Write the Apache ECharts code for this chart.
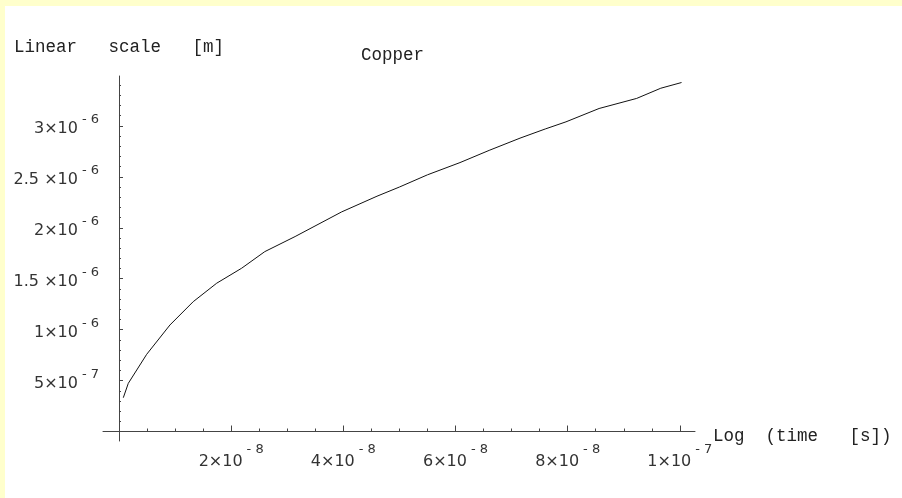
<!DOCTYPE html>
<html>
<head>
<meta charset="utf-8">
<script src="https://cdn.jsdelivr.net/npm/echarts@6/dist/echarts.min.js"></script>
<style>
  html, body { margin: 0; padding: 0; background: #FFFFCC; }
  #chart { position: absolute; left: 5px; top: 6px; width: 897px; height: 492px; background: #ffffff; }
</style>
</head>
<body>
<div id="chart"></div>
<script>
// Copper: penetration depth versus time
const timeValues = [7.7e-10, 1.66e-9, 4.94e-9, 9.09e-9, 1.324e-8, 1.742e-8, 2.187e-8, 2.60e-8,
  3.14e-8, 3.97e-8, 4.6e-8, 5.0e-8, 5.5e-8, 6.08e-8, 6.6e-8, 7.15e-8, 7.6e-8, 7.97e-8,
  8.56e-8, 9.23e-8, 9.66e-8, 1.003e-7];
const depthValues = [3.32e-7, 4.73e-7, 7.58e-7, 1.046e-6, 1.275e-6, 1.456e-6, 1.603e-6, 1.766e-6,
  1.914e-6, 2.156e-6, 2.31e-6, 2.40e-6, 2.52e-6, 2.64e-6, 2.76e-6, 2.88e-6, 2.97e-6, 3.04e-6,
  3.171e-6, 3.27e-6, 3.37e-6, 3.426e-6];

// tick positions and their labels as [mantissa, exponent]
const xMajorTicks = [2e-8, 4e-8, 6e-8, 8e-8, 1e-7];
const xTickLabels = [['2\u00d710', '- 8'], ['4\u00d710', '- 8'], ['6\u00d710', '- 8'], ['8\u00d710', '- 8'], ['1\u00d710', '- 7']];
const xMinorTicks = [5e-9, 1e-8, 1.5e-8, 2.5e-8, 3e-8, 3.5e-8, 4.5e-8, 5e-8, 5.5e-8, 6.5e-8, 7e-8, 7.5e-8, 8.5e-8, 9e-8, 9.5e-8];
const yMajorTicks = [5e-7, 1e-6, 1.5e-6, 2e-6, 2.5e-6, 3e-6];
const yTickLabels = [['5\u00d710', '- 7'], ['1\u00d710', '- 6'], ['1.5 \u00d710', '- 6'], ['2\u00d710', '- 6'], ['2.5 \u00d710', '- 6'], ['3\u00d710', '- 6']];
const yMinorTicks = [1e-7, 2e-7, 3e-7, 4e-7, 6e-7, 7e-7, 8e-7, 9e-7, 1.1e-6, 1.2e-6, 1.3e-6, 1.4e-6,
  1.6e-6, 1.7e-6, 1.8e-6, 1.9e-6, 2.1e-6, 2.2e-6, 2.3e-6, 2.4e-6, 2.6e-6, 2.7e-6, 2.8e-6, 2.9e-6,
  3.1e-6, 3.2e-6, 3.3e-6, 3.4e-6];

const xRange = [-2.85e-9, 1.027e-7];
const yRange = [-0.093e-6, 3.49e-6];

const axisColor = '#444';
const textColor = '#333';
const monoFont = '"Liberation Mono", "DejaVu Sans Mono", monospace';
const sansFont = '"DejaVu Sans", sans-serif';

function lookupLabel(ticks, labels, value) {
  for (let i = 0; i < ticks.length; i++) {
    if (Math.abs(ticks[i] - value) < Math.abs(ticks[i]) * 1e-6) {
      return '{m|' + labels[i][0] + '}{e|' + labels[i][1] + '}';
    }
  }
  return '';
}

const chart = echarts.init(document.getElementById('chart'), null, { renderer: 'canvas' });

chart.setOption({
  animation: false,
  title: {
    text: 'Copper',
    left: 356,
    top: 40,
    padding: 0,
    textStyle: { fontFamily: monoFont, fontSize: 17.5, fontWeight: 'normal', color: '#222' }
  },
  grid: { left: 98, top: 70, right: 207, bottom: 57, containLabel: false },
  xAxis: [
    {
      type: 'value',
      position: 'bottom',
      min: xRange[0],
      max: xRange[1],
      name: '{n|Log  (time   [s])}',
      nameLocation: 'end',
      nameGap: 18,
      nameMoveOverlap: false,
      nameTextStyle: {
        fontFamily: monoFont, fontSize: 17.5, color: '#222',
        rich: { n: { fontFamily: monoFont, fontSize: 17.5, color: '#222', padding: [10, 0, 0, 0] } }
      },
      axisLine: { show: true, onZero: true, onZeroAxisIndex: 0, lineStyle: { color: axisColor, width: 1 } },
      axisTick: { show: true, inside: true, length: 6, customValues: xMajorTicks, lineStyle: { color: axisColor, width: 1 } },
      axisLabel: {
        show: true,
        customValues: xMajorTicks,
        margin: 2,
        formatter: function (v) { return lookupLabel(xMajorTicks, xTickLabels, v); },
        rich: {
          m: { fontFamily: sansFont, fontSize: 16, color: textColor },
          e: { fontFamily: sansFont, fontSize: 13, color: textColor, padding: [0, 0, 24, 4] }
        }
      },
      splitLine: { show: false }
    },
    {
      type: 'value',
      position: 'bottom',
      min: xRange[0],
      max: xRange[1],
      axisLine: { show: false, onZero: true, onZeroAxisIndex: 0 },
      axisTick: { show: true, inside: true, length: 3, customValues: xMinorTicks, lineStyle: { color: axisColor, width: 1 } },
      axisLabel: { show: false },
      splitLine: { show: false }
    }
  ],
  yAxis: [
    {
      type: 'value',
      position: 'left',
      min: yRange[0],
      max: yRange[1],
      name: 'Linear   scale   [m]',
      nameLocation: 'end',
      nameGap: 20,
      nameTextStyle: { fontFamily: monoFont, fontSize: 17.5, color: '#222' },
      axisLine: { show: true, onZero: true, onZeroAxisIndex: 0, lineStyle: { color: axisColor, width: 1 } },
      axisTick: { show: true, inside: true, length: 4, customValues: yMajorTicks, lineStyle: { color: axisColor, width: 1 } },
      axisLabel: {
        show: true,
        customValues: yMajorTicks,
        margin: 4,
        formatter: function (v) { return lookupLabel(yMajorTicks, yTickLabels, v); },
        rich: {
          m: { fontFamily: sansFont, fontSize: 16, color: textColor, padding: [6, 0, 0, 0] },
          e: { fontFamily: sansFont, fontSize: 13, color: textColor, padding: [0, 0, 12, 4] }
        }
      },
      splitLine: { show: false }
    },
    {
      type: 'value',
      position: 'left',
      min: yRange[0],
      max: yRange[1],
      axisLine: { show: false, onZero: true, onZeroAxisIndex: 0 },
      axisTick: { show: true, inside: true, length: 2, customValues: yMinorTicks, lineStyle: { color: axisColor, width: 1 } },
      axisLabel: { show: false },
      splitLine: { show: false }
    }
  ],
  series: [
    {
      type: 'line',
      xAxisIndex: 0,
      yAxisIndex: 0,
      showSymbol: false,
      smooth: false,
      lineStyle: { color: '#111', width: 1 },
      data: timeValues.map(function (t, i) { return [t, depthValues[i]]; })
    }
  ]
});
</script>
</body>
</html>
